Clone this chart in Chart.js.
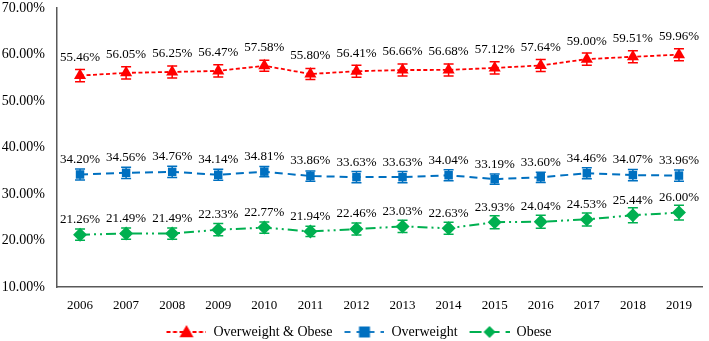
<!DOCTYPE html>
<html>
<head>
<meta charset="utf-8">
<script src="https://cdn.jsdelivr.net/npm/chart.js@4.4.1/dist/chart.umd.min.js"></script>
<style>
  html, body { margin: 0; padding: 0; background: #fff; }
  #wrap { width: 709px; height: 341px; }
</style>
</head>
<body>
<div id="wrap"><canvas id="chart"></canvas></div>
<script>
// prevalence by survey year (%)
const years = ['2006', '2007', '2008', '2009', '2010', '2011', '2012', '2013', '2014', '2015', '2016', '2017', '2018', '2019'];
const overweightObese = [55.46, 56.05, 56.25, 56.47, 57.58, 55.80, 56.41, 56.66, 56.68, 57.12, 57.64, 59.00, 59.51, 59.96];
const overweight = [34.20, 34.56, 34.76, 34.14, 34.81, 33.86, 33.63, 33.63, 34.04, 33.19, 33.60, 34.46, 34.07, 33.96];
const obese = [21.26, 21.49, 21.49, 22.33, 22.77, 21.94, 22.46, 23.03, 22.63, 23.93, 24.04, 24.53, 25.44, 26.00];

// 95% CI half widths
const overweightObeseErr = [1.3, 1.3, 1.3, 1.3, 1.2, 1.2, 1.3, 1.3, 1.3, 1.3, 1.3, 1.3, 1.3, 1.3];
const overweightErr = [1.2, 1.2, 1.2, 1.2, 1.1, 1.1, 1.2, 1.2, 1.2, 1.1, 1.1, 1.2, 1.2, 1.2];
const obeseErr = [1.2, 1.2, 1.2, 1.3, 1.2, 1.1, 1.3, 1.3, 1.3, 1.4, 1.4, 1.4, 1.6, 1.6];

const Y_MIN = 10;
const Y_MAX = 70;
const Y_STEP = 10;

const SERIF = "'Liberation Serif', 'Times New Roman', serif";
const RED = '#FF0000';
const BLUE = '#0070C0';
const GREEN = '#00B050';
const AXIS = '#595959';

// legend icon: dashed line with the marker in the middle (left margin = gap to previous item)
function legendIcon(color, dash, style, r) {
  const c = document.createElement('canvas');
  c.width = 49;
  c.height = 16;
  const g = c.getContext('2d');
  const cx = 29;
  g.strokeStyle = color;
  g.fillStyle = color;
  g.lineWidth = 1.8;
  g.setLineDash(dash);
  g.beginPath();
  g.moveTo(9, 8);
  g.lineTo(49, 8);
  g.stroke();
  g.setLineDash([]);
  g.beginPath();
  if (style === 'triangle') {
    g.moveTo(cx, 8 - r);
    g.lineTo(cx + r, 8 + r * 0.75);
    g.lineTo(cx - r, 8 + r * 0.75);
  } else if (style === 'rect') {
    g.rect(cx - r, 8 - r, r * 2, r * 2);
  } else {
    g.moveTo(cx, 8 - r);
    g.lineTo(cx + r, 8);
    g.lineTo(cx, 8 + r);
    g.lineTo(cx - r, 8);
  }
  g.closePath();
  g.fill();
  return c;
}

const errorBars = {
  id: 'errorBars',
  afterDatasetsDraw(chart) {
    const { ctx, scales: { y } } = chart;
    chart.data.datasets.forEach((ds, i) => {
      const meta = chart.getDatasetMeta(i);
      ctx.save();
      ctx.strokeStyle = ds.borderColor;
      ctx.lineWidth = 1.5;
      meta.data.forEach((pt, j) => {
        const v = ds.data[j];
        const e = ds.errors[j];
        const top = y.getPixelForValue(v + e);
        const bot = y.getPixelForValue(v - e);
        ctx.beginPath();
        ctx.moveTo(pt.x, top);
        ctx.lineTo(pt.x, bot);
        ctx.moveTo(pt.x - 5, top);
        ctx.lineTo(pt.x + 5, top);
        ctx.moveTo(pt.x - 5, bot);
        ctx.lineTo(pt.x + 5, bot);
        ctx.stroke();
      });
      ctx.restore();
    });
  },
};

const valueLabels = {
  id: 'valueLabels',
  afterDatasetsDraw(chart) {
    const { ctx } = chart;
    ctx.save();
    ctx.font = `13px ${SERIF}`;
    ctx.fillStyle = '#000';
    ctx.textAlign = 'center';
    ctx.textBaseline = 'middle';
    chart.data.datasets.forEach((ds, i) => {
      chart.getDatasetMeta(i).data.forEach((pt, j) => {
        ctx.fillText(`${ds.data[j].toFixed(2)}%`, pt.x, pt.y - ds.labelOffset);
      });
    });
    ctx.restore();
  },
};

new Chart(document.getElementById('chart'), {
  type: 'line',
  data: {
    labels: years,
    datasets: [
      {
        label: 'Overweight & Obese',
        data: overweightObese,
        errors: overweightObeseErr,
        labelOffset: 18,
        borderColor: RED,
        backgroundColor: RED,
        borderWidth: 1.8,
        borderDash: [4, 2.5],
        pointStyle: 'triangle',
        pointRadius: 7,
        pointBorderWidth: 0,
        icon: legendIcon(RED, [4, 2.5], 'triangle', 7),
      },
      {
        label: 'Overweight',
        data: overweight,
        errors: overweightErr,
        labelOffset: 15,
        borderColor: BLUE,
        backgroundColor: BLUE,
        borderWidth: 2,
        borderDash: [8, 5],
        pointStyle: 'rect',
        pointRadius: 6,
        pointBorderWidth: 0,
        icon: legendIcon(BLUE, [6, 6], 'rect', 5.5),
      },
      {
        label: 'Obese',
        data: obese,
        errors: obeseErr,
        labelOffset: 15,
        borderColor: GREEN,
        backgroundColor: GREEN,
        borderWidth: 2,
        borderDash: [10, 4, 2, 4, 2, 4],
        pointStyle: 'rectRot',
        pointRadius: 7,
        pointBorderWidth: 0,
        icon: legendIcon(GREEN, [12, 6], 'diamond', 6),
      },
    ],
  },
  options: {
    responsive: true,
    maintainAspectRatio: false,
    animation: false,
    layout: { padding: { top: 0, left: 0, right: 0, bottom: -8 } },
    plugins: {
      tooltip: { enabled: false },
      legend: {
        position: 'bottom',
        labels: {
          usePointStyle: true,
          pointStyleWidth: 49,
          padding: 3,
          color: '#000',
          font: { family: SERIF, size: 14 },
          generateLabels: (chart) =>
            chart.data.datasets.map((ds, i) => ({
              text: ds.label,
              pointStyle: ds.icon,
              fillStyle: ds.borderColor,
              strokeStyle: ds.borderColor,
              lineWidth: 0,
              datasetIndex: i,
              hidden: false,
            })),
        },
      },
    },
    scales: {
      x: {
        offset: true,
        grid: { display: false, drawTicks: false },
        border: { color: AXIS, width: 1.5 },
        ticks: { color: '#000', padding: 11, font: { family: SERIF, size: 13 } },
        afterFit: (s) => { s.height = 35; },
      },
      y: {
        min: Y_MIN,
        max: Y_MAX,
        grid: { display: false, drawTicks: false },
        border: { color: AXIS, width: 1.5 },
        ticks: {
          stepSize: Y_STEP,
          padding: 12,
          color: '#000',
          font: { family: SERIF, size: 14 },
          callback: (v) => `${v.toFixed(2)}%`,
        },
        afterFit: (s) => {
          s.width = 57;
          s.paddingTop = 8;
          s.paddingBottom = 0;
        },
      },
    },
  },
  plugins: [errorBars, valueLabels],
});
</script>
</body>
</html>
